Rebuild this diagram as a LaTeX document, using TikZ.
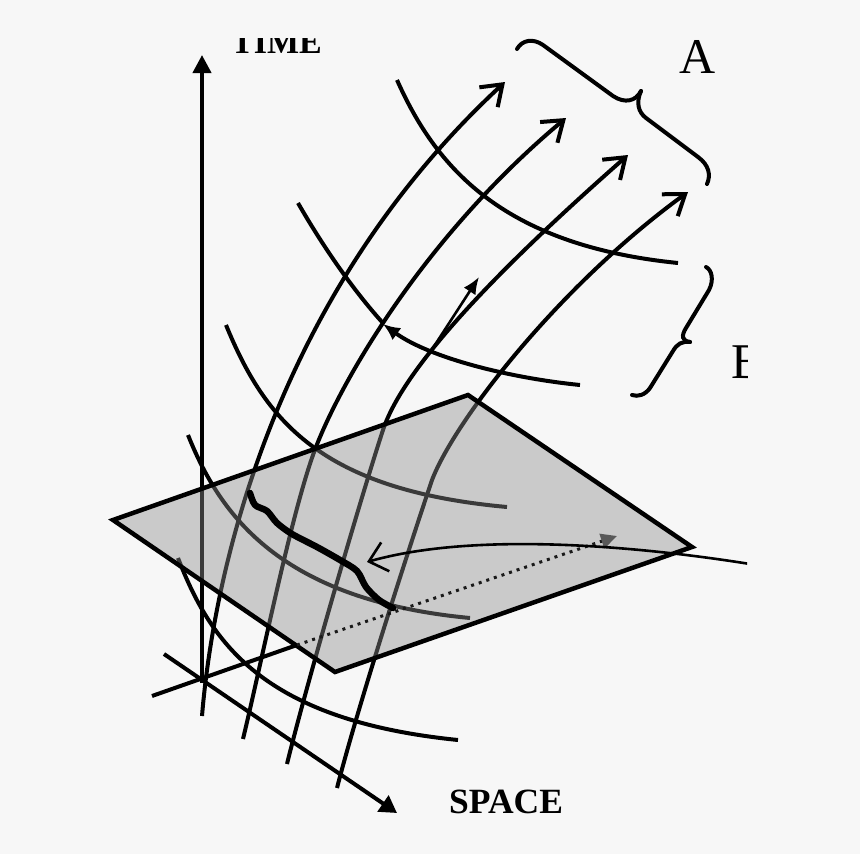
\documentclass[tikz,border=0pt]{standalone}
\usepackage{fontspec}
\setmainfont{Liberation Serif}
\usetikzlibrary{arrows.meta}
\definecolor{bg}{HTML}{F7F7F7}
\begin{document}
\begin{tikzpicture}[x=1pt,y=-1pt,
  curve/.style={line width=4pt},
  wline/.style={curve, -{Straight Barb[length=19pt,width=27pt]}},
  brace/.style={line width=4pt, line cap=round},
  lbl/.style={anchor=base west, inner sep=0pt},
  axlbl/.style={lbl, font=\bfseries\fontsize{34}{34}\selectfont},
  letter/.style={lbl, font=\fontsize{50}{50}\selectfont}]
\fill[bg] (0,0) rectangle (860,854);
\useasboundingbox (0,0) rectangle (860,854);
\begin{scope}
\clip (100,38) rectangle (747,850);
% ---- lines partly under the plane ----
% TIME axis
\draw[curve, -{Triangle[length=18pt,width=18pt]}] (202,683) -- (202,55);
% world lines
\draw[wline] (202,716) .. controls (215,560) and (280,290) .. (505,82);
\draw[wline] (243,739) .. controls (262,660) and (290,520) .. (313,455)
                       .. controls (336,390) and (420,240) .. (566,118);
\draw[wline] (287,764) .. controls (305,690) and (360,500) .. (383,430)
                       .. controls (406,360) and (520,250) .. (628,155);
\draw[wline] (337,788) .. controls (357,710) and (405,560) .. (432,480)
                       .. controls (455,420) and (560,285) .. (688,192);
% branch arrow
\draw[line width=2.6pt, -{Latex[length=17pt,width=14pt]}] (431,351) -- (479,277);
% transverse curves
\draw[curve] (397,80) .. controls (435,165) and (500,245) .. (678,263);
\draw[curve] (298,203) .. controls (325,250) and (355,292) .. (382,322);
\draw[curve, -{Latex[length=17pt,width=15pt]}] (580,385) .. controls (510,378) and (430,358) .. (383,324);
\draw[curve] (226,325) .. controls (265,420) and (320,490) .. (507,507);
\draw[curve] (188,435) .. controls (220,515) and (280,600) .. (470,618);
\draw[curve] (178,558) .. controls (210,640) and (260,720) .. (458,740);
% SPACE axis
\draw[curve, -{Triangle[length=17pt,width=19pt]}] (164,654) -- (397,813);
% third axis, solid part
\draw[curve] (152,696) -- (297,645);
% ---- plane ----
\fill[black!45, fill opacity=0.42] (113,520) -- (468,395) -- (692,547) -- (335,672) -- cycle;
\draw[line width=4.5pt, line join=miter] (113,520) -- (468,395) -- (692,547) -- (335,672) -- cycle;
% dotted hidden axis
\draw[black!90, line width=3pt, dash pattern=on 3pt off 5pt,
  -{Triangle[length=16pt,width=15pt,color=black!65]}] (297,645) -- (617,536);
% bold boundary curve
\draw[line width=6.5pt, line cap=round, line join=round] plot[smooth, tension=0.5] coordinates {(250,493) (255,505) (267,511) (277,523) (292,534) (317,547) (340,560) (357,571) (366,587) (379,600) (393,608)};
% curved arrow
\draw[line width=2.6pt, -{Straight Barb[length=17pt,width=30pt]}] (750,564) .. controls (650,548) and (480,530) .. (367,562);
% braces
\draw[brace] (517,49) .. controls (522,40) and (533,38) .. (543,45) -- (613,96) .. controls (625,104) and (636,101) .. (641,91);
\draw[brace] (641,91) .. controls (636,102) and (638,112) .. (646,118) -- (698,157) .. controls (709,165) and (711,175) .. (707,184);
\draw[brace] (706,267) .. controls (712,270) and (714,280) .. (709,290) -- (686,328) .. controls (681,336) and (682,341) .. (690,342);
\draw[brace] (690,342) .. controls (682,341) and (677,344) .. (673,351) -- (650,388) .. controls (645,395) and (638,397) .. (632,395);
% labels
\node[axlbl] (time) at (231,53) {TIME};
\node[letter] (la) at (679,73) {A};
\node[letter] (lb) at (731,378) {B};
\end{scope}
\node[axlbl, font=\bfseries\fontsize{35.5}{35.5}\selectfont] (space) at (449,813) {SPACE};
\end{tikzpicture}
\end{document}
